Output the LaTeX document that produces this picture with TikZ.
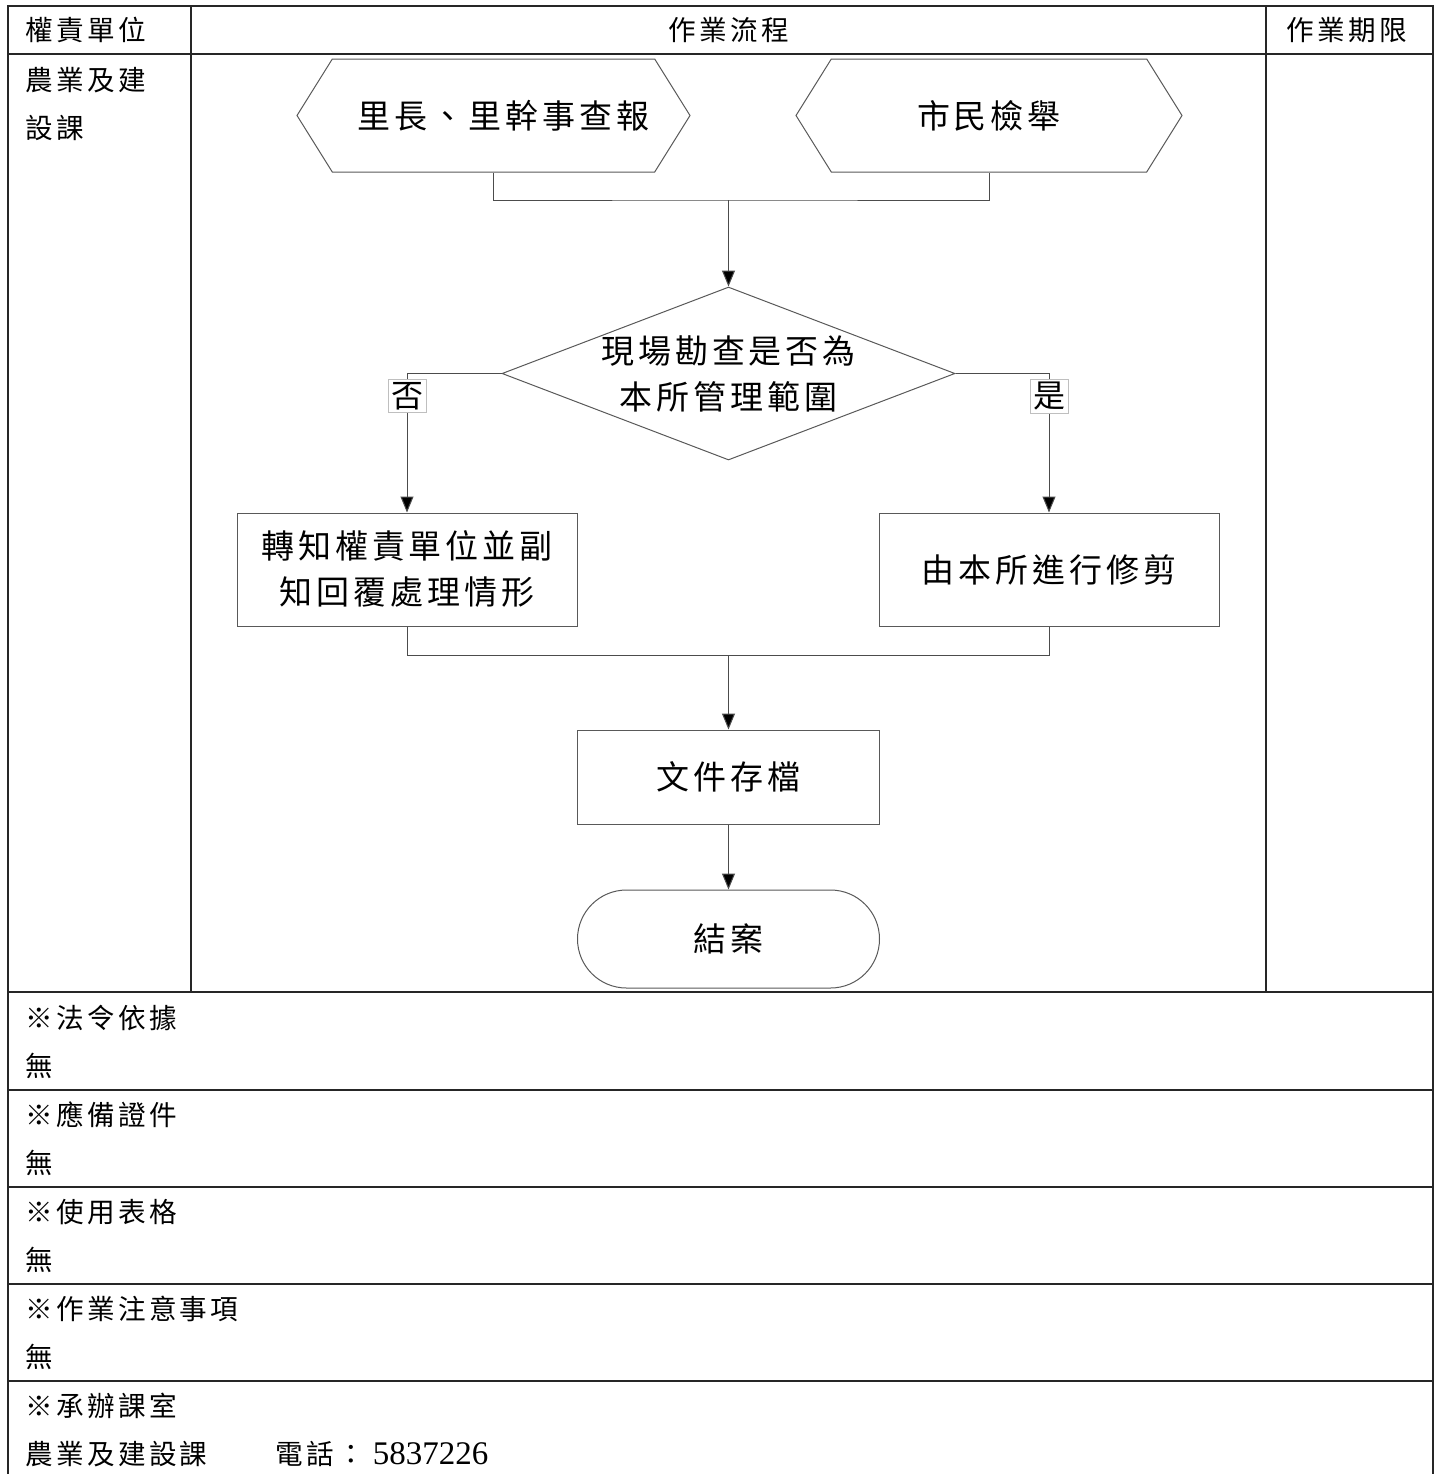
\documentclass[tikz,border=0pt]{standalone}
\usepackage{fontspec}
\setmainfont{Noto Sans CJK TC}[LetterSpace=12]
\newfontfamily\numfont{Liberation Serif}
\usepackage{tikz}
\usetikzlibrary{arrows.meta,shapes.geometric,shapes.misc,shapes.symbols}
\tikzstyle{grid}=[draw=black!85,line width=0.8pt]
\tikzstyle{cell}=[anchor=west,inner sep=0pt,font=\fontsize{13.8}{16}\selectfont]
\tikzstyle{head}=[inner sep=0pt,font=\fontsize{13.8}{16}\selectfont]
\tikzstyle{flow}=[draw=black!65,line width=0.5pt,fill=white,inner sep=0pt,align=center,font=\fontsize{16.5}{23}\selectfont]
\tikzstyle{hexa}=[flow,signal,signal to=west and east,signal pointer angle=116,minimum width=196.5pt,minimum height=56.5pt]
\tikzstyle{decision}=[flow,diamond,minimum width=226.5pt,minimum height=86.5pt]
\tikzstyle{process}=[flow,rectangle,minimum width=170pt,minimum height=56.5pt]
\tikzstyle{terminal}=[flow,rounded rectangle,minimum width=151pt,minimum height=49pt]
\tikzstyle{tag}=[draw=black!25,fill=white,inner sep=1.5pt,font=\fontsize{16}{18}\selectfont]
\tikzstyle{edge}=[draw=black!70,line width=0.5pt]
\tikzstyle{dedge}=[edge,-{Triangle[length=8pt,width=6.5pt,fill=black]}]

\begin{document}
\begin{tikzpicture}[x=0.5pt,y=-0.5pt]
      \useasboundingbox (0,0) rectangle (1440,1474);

      % table frame
      \path[grid] (8,1474) -- (8,6) -- (1433,6) -- (1433,1474);
      \path[grid] (191,6) -- (191,992);
      \path[grid] (1266,6) -- (1266,992);
      \foreach \y in {54,992,1090,1187,1284,1381}
        \path[grid] (8,\y) -- (1433,\y);

      \node[cell] (hunit) at (25,30) {權責單位};
      \node[head] (hflow) at (729,30) {作業流程};
      \node[head] (hterm) at (1347,30) {作業期限};
      \node[cell] (unit1) at (25,80) {農業及建};
      \node[cell] (unit2) at (25,128) {設課};

      % flow chart
      \node[hexa] (report) at (493.5,115.5) {\hspace{10pt}里長、里幹事查報};
      \node[hexa,minimum width=193pt] (citizen) at (989,115.5) {市民檢舉};
      \node[decision,label={[align=center,font=\fontsize{16.5}{23}\selectfont]center:現場勘查是否為\\本所管理範圍}] (check) at (728.5,373.5) {};
      \node[process] (notify) at (407,569.5) {轉知權責單位並副\\知回覆處理情形};
      \node[process] (trim) at (1049,569.5) {由本所進行修剪};
      \node[process,minimum width=151pt,minimum height=47pt] (file) at (728.5,777) {文件存檔};
      \node[terminal] (close) at (728.5,939) {結案};
      \coordinate (join) at (728.5,200);
      \coordinate (merge) at (728.5,655);

      \path[edge] (report.south) |- (join) -| (citizen.south);
      \path[dedge] (join) -- (check.north);
      \path[dedge] (check.west) -| (notify.north);
      \path[dedge] (check.east) -| (trim.north);
      \path[edge] (notify.south) |- (merge) -| (trim.south);
      \path[dedge] (merge) -- (file.north);
      \path[dedge] (file) -- (close);

      \node[tag] (no) at (407,396) {否};
      \node[tag] (yes) at (1049,396) {是};

      % notes
      \node[cell] (law) at (25,1018) {※法令依據};
      \node[cell] (law2) at (25,1066) {無};
      \node[cell] (doc) at (25,1115) {※應備證件};
      \node[cell] (doc2) at (25,1163) {無};
      \node[cell] (form) at (25,1212) {※使用表格};
      \node[cell] (form2) at (25,1260) {無};
      \node[cell] (note) at (25,1309) {※作業注意事項};
      \node[cell] (note2) at (25,1357) {無};
      \node[cell] (office) at (25,1406) {※承辦課室};
      \node[cell] (office2) at (25,1454) {農業及建設課\hspace{34pt}電話：\hspace{4pt}{\numfont\fontsize{16.5}{16}\selectfont 5837226}};

    \end{tikzpicture}
\end{document}
